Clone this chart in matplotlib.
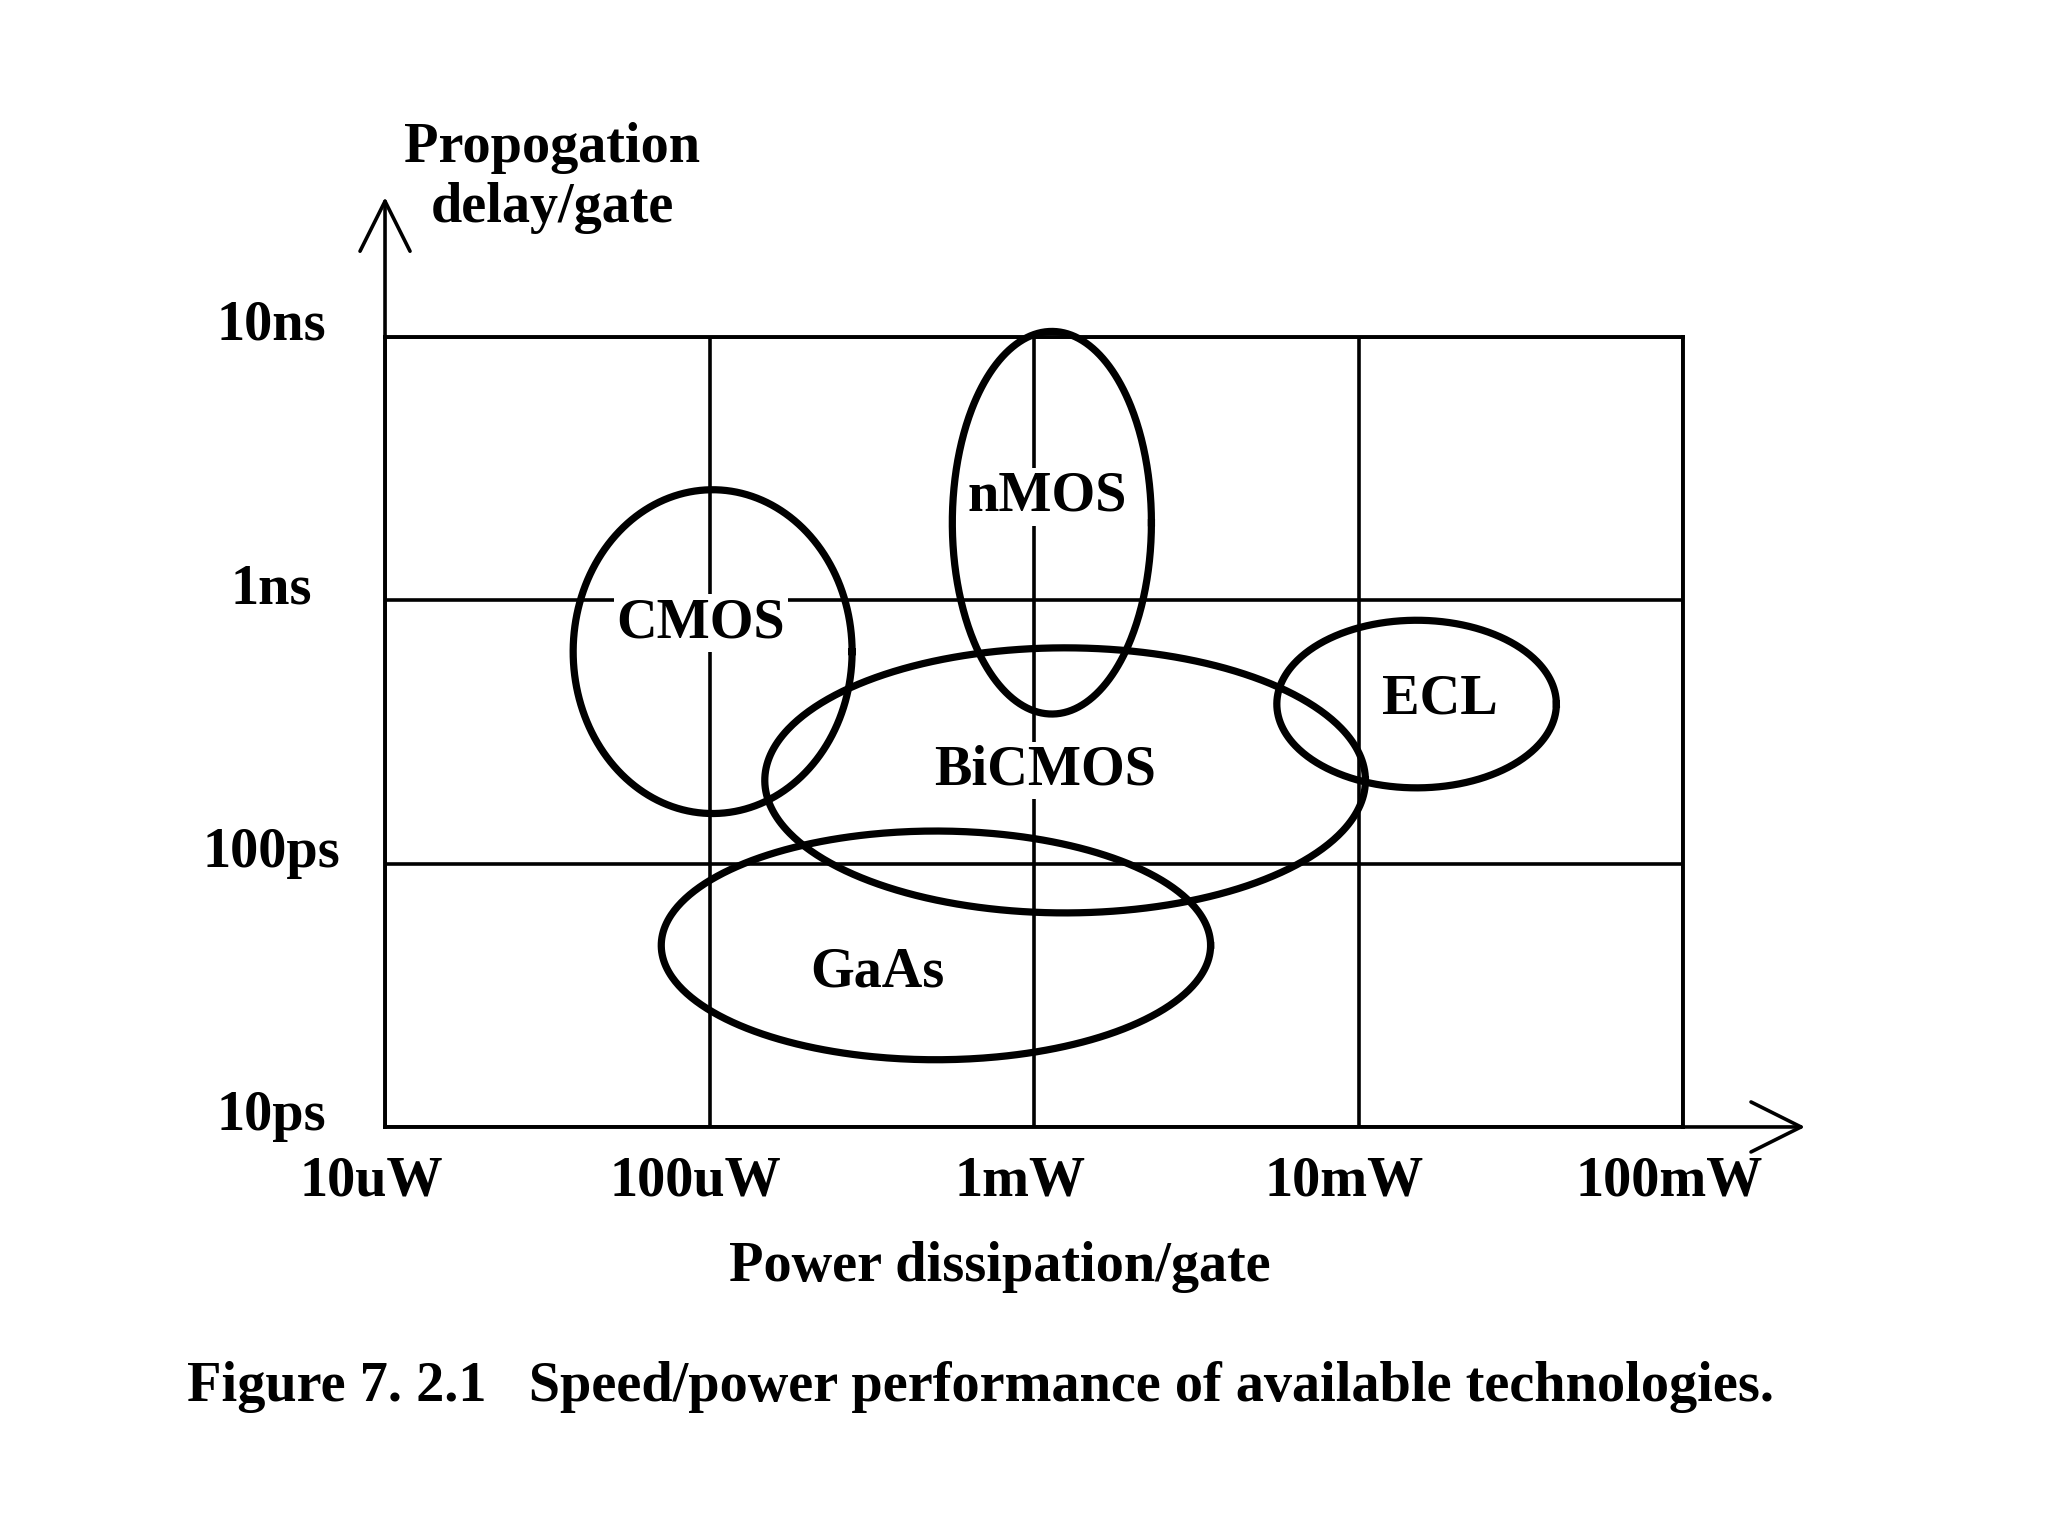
import numpy as np
import matplotlib
matplotlib.use('Agg')
import matplotlib.pyplot as plt
import matplotlib.transforms as mtransforms

plt.rcParams['font.family'] = ['Liberation Serif', 'DejaVu Serif']
plt.rcParams['font.weight'] = 'bold'
plt.rcParams['font.size'] = 40.5

# technology regions: power range (mW) and delay range (ns)
techs = ['nMOS', 'CMOS', 'BiCMOS', 'ECL', 'GaAs']
power_lo_mw = [0.56, 0.038, 0.148, 5.6, 0.071]
power_hi_mw = [2.3, 0.275, 10.5, 40.7, 3.5]
delay_lo_ns = [0.37, 0.155, 0.065, 0.194, 0.018]
delay_hi_ns = [10.5, 2.63, 0.66, 0.84, 0.133]
# where each name is written
label_power_mw = [1.1, 0.094, 1.08, 17.8, 0.33]
label_delay_ns = [2.47, 0.82, 0.226, 0.42, 0.0385]

x_ticks_w = [1e-5, 1e-4, 1e-3, 1e-2, 1e-1]
x_tick_labels = ['10uW', '100uW', '1mW', '10mW', '100mW']
y_ticks_s = [1e-11, 1e-10, 1e-9, 1e-8]
y_tick_labels = ['10ps', '100ps', '1ns', '10ns']

fig = plt.figure(figsize=(20.48, 15.36), dpi=100)
ax = fig.add_axes([0.188, 0.2663, 0.6338, 0.5143])
ax.set_xscale('log')
ax.set_yscale('log')
ax.set_xlim(x_ticks_w[0], x_ticks_w[-1])
ax.set_ylim(y_ticks_s[0], y_ticks_s[-1])
ax.set_xticks(x_ticks_w)
ax.set_yticks(y_ticks_s)
ax.minorticks_off()
ax.set_xticklabels([])
ax.set_yticklabels([])
ax.tick_params(length=0)
ax.grid(True, color='black', linewidth=2.6)
ax.set_axisbelow(True)
for sp in ax.spines.values():
    sp.set_linewidth(2.8)

# ellipses drawn in log space
t = np.linspace(0, 2 * np.pi, 500)
for i, name in enumerate(techs):
    lx0, lx1 = np.log10(power_lo_mw[i] * 1e-3), np.log10(power_hi_mw[i] * 1e-3)
    ly0, ly1 = np.log10(delay_lo_ns[i] * 1e-9), np.log10(delay_hi_ns[i] * 1e-9)
    cx, cy = (lx0 + lx1) / 2, (ly0 + ly1) / 2
    a, b = (lx1 - lx0) / 2, (ly1 - ly0) / 2
    ax.plot(10 ** (cx + a * np.cos(t)), 10 ** (cy + b * np.sin(t)),
            color='black', lw=5.2, zorder=4, clip_on=False)
    ax.text(label_power_mw[i] * 1e-3, label_delay_ns[i] * 1e-9, name,
            ha='center', va='center', zorder=3,
            bbox=dict(facecolor='white', edgecolor='none', pad=2))

# tick labels
xt = mtransforms.offset_copy(ax.get_xaxis_transform(), fig=fig, x=-14, y=-55, units='dots')
for v, s in zip(x_ticks_w, x_tick_labels):
    ax.text(v, 0, s, transform=xt, ha='center', va='center', clip_on=False)
yt = mtransforms.offset_copy(ax.get_yaxis_transform(), fig=fig, x=-114, y=11, units='dots')
for v, s in zip(y_ticks_s, y_tick_labels):
    ax.text(0, v, s, transform=yt, ha='center', va='center', clip_on=False)

# axis arrows
arrow = dict(arrowstyle='->, head_length=1.8, head_width=0.9', lw=2.6,
             color='black', shrinkA=0, shrinkB=0, mutation_scale=20)
ax.annotate('', xy=(0, 1.177), xytext=(0, 1), xycoords='axes fraction',
            arrowprops=arrow, annotation_clip=False)
ax.annotate('', xy=(1.094, 0), xytext=(1, 0), xycoords='axes fraction',
            arrowprops=arrow, annotation_clip=False)

fig.text(552 / 2048, 1 - 178 / 1536, 'Propogation\ndelay/gate', ha='center', va='center',
         linespacing=1.2)
fig.text(1000 / 2048, 1 - 1267 / 1536, 'Power dissipation/gate', ha='center', va='center')
fig.text(187 / 2048, 1 - 1387 / 1536,
         'Figure 7. 2.1   Speed/power performance of available technologies.',
         ha='left', va='center')

fig.savefig('out.png', dpi=100, facecolor='white')
